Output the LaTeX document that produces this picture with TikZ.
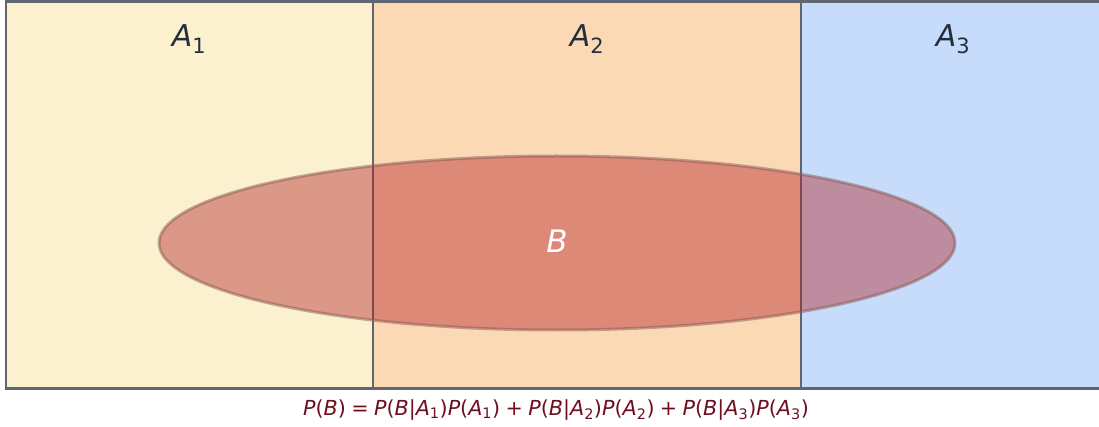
\documentclass[tikz,border=0pt]{standalone}
\usepackage{fontspec}
\setmainfont{DejaVu Sans}
\usetikzlibrary{shapes.geometric}
\definecolor{aone}{RGB}{252,241,207}
\definecolor{atwo}{RGB}{251,217,180}
\definecolor{athree}{RGB}{198,220,250}
\definecolor{bordergray}{RGB}{95,102,112}
\definecolor{ellcol}{RGB}{178,30,35}
\definecolor{elledge}{RGB}{140,90,85}
\definecolor{labcol}{RGB}{38,46,60}
\definecolor{formcol}{RGB}{110,15,32}
\newcommand{\mi}[1]{\textit{#1}}
\newcommand{\sbs}[1]{\textsubscript{#1}}
\newcommand{\op}[1]{\hspace{0.26em}#1\hspace{0.26em}}
\begin{document}
\begin{tikzpicture}[x=1pt,y=-1pt,
  region/.style={draw=bordergray, line width=2.6pt, inner sep=0pt, outer sep=0pt,
    anchor=north west, minimum height=387pt},
  alabel/.style={text=labcol, font=\fontsize{30}{36}\selectfont, inner sep=0pt},
  formula/.style={text=formcol, font=\fontsize{20.7}{25}\selectfont, inner sep=0pt}]
\useasboundingbox (0,0) rectangle (1099,427);
\begin{scope}
\clip (0,-5) rectangle (1099,427);
\node[region, fill=aone, minimum width=367pt] (R1) at (6,1.5) {};
\node[region, fill=atwo, minimum width=428pt] (R2) at (373,1.5) {};
\node[region, fill=athree, minimum width=350pt] (R3) at (801,1.5) {};
\end{scope}
\node[alabel] (L1) at (189,39) {\mi{A}\sbs{1}};
\node[alabel] (L2) at (587,39) {\mi{A}\sbs{2}};
\node[alabel] (L3) at (953,39) {\mi{A}\sbs{3}};
\node[ellipse, minimum width=796pt, minimum height=174pt, inner sep=0pt,
  fill=ellcol, fill opacity=0.42, draw=elledge, draw opacity=0.5, line width=3pt,
  text=white, text opacity=1, font=\fontsize{31}{36}\selectfont] (B) at (557,243) {\raisebox{3pt}{\mi{B}}};
\node[formula] (F) at (556,410) {\mi{P}(\mi{B})\op{=}\mi{P}(\mi{B}|\mi{A}\sbs{1})\mi{P}(\mi{A}\sbs{1})\op{+}\mi{P}(\mi{B}|\mi{A}\sbs{2})\mi{P}(\mi{A}\sbs{2})\op{+}\mi{P}(\mi{B}|\mi{A}\sbs{3})\mi{P}(\mi{A}\sbs{3})};
\end{tikzpicture}
\end{document}
